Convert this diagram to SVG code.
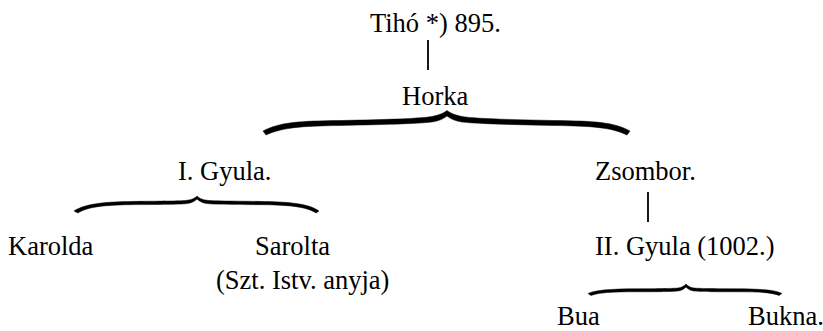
<svg xmlns="http://www.w3.org/2000/svg" width="823" height="331" viewBox="0 0 823 331">
<style>
.t{font-family:"Liberation Serif","Times New Roman",serif;font-size:26.5px;fill:#000}
.ln{stroke:#000;stroke-width:1.8;fill:none}
.br{fill:#000;stroke:#000;stroke-width:0.5;stroke-linejoin:round}
</style>
<rect width="823" height="331" fill="#fff"/>
<g id="connectors">
<line class="ln" x1="428" y1="40" x2="428" y2="70"/>
<line class="ln" x1="648" y1="192" x2="648" y2="222"/>
<path class="br" d="M263,131 C280,122 300,121 340,120.5 C390,119.5 420,118.5 432,116.5 C439,115 444,113 447,110.5 C450,113 455,115 462,116.5 C474,118.5 504,119.5 554,120.5 C594,121 614,122 630,131 L627,135 C612,127.5 592,126 554,125.5 C504,124.5 474,123.5 462,122 C455,121 450,118.5 447,116 C444,118.5 439,121 432,122 C420,123.5 390,124.5 340,125.5 C302,126 282,127.5 266,135 Z"/>
<path class="br" d="M74,211 C84,204.5 100,202 130,201.5 C160,201 180,201.2 187,200.3 C192,199.7 195,198 197,196 C199,198 202,199.7 207,200.3 C214,201.2 234,201 264,201.5 C294,202 310,204.5 319,211 L316,213 C308,207.5 292,205 264,204.7 C234,204.5 214,204.5 207,203.6 C202,203 199,201 197,199 C195,201 192,203 187,203.6 C180,204.5 160,204.5 130,204.7 C102,205 86,207.5 78,213 Z"/>
<path class="br" d="M588,293.5 C596,290 610,289 635,288.8 C660,288.6 672,288.6 678,288 C682,287.5 684,286 686,284 C688,286 690,287.5 694,288 C700,288.6 712,288.6 737,288.8 C762,289 775,290 782,293.5 L779,295.5 C772,292.5 760,291.8 737,291.8 C712,291.8 700,291.6 694,291 C690,290.5 688,289 686,287 C684,289 682,290.5 678,291 C672,291.6 660,291.8 635,291.8 C612,291.8 600,292.5 591,295.5 Z"/>
</g>
<g id="tiho"><text class="t" x="370" y="32">Tihó *) 895.</text></g>
<g id="horka"><text class="t" x="402" y="105">Horka</text></g>
<g id="gyula1"><text class="t" x="178" y="180">I. Gyula.</text></g>
<g id="zsombor"><text class="t" x="595" y="180">Zsombor.</text></g>
<g id="karolda"><text class="t" x="8" y="255">Karolda</text></g>
<g id="sarolta"><text class="t" x="255" y="255">Sarolta</text><text class="t" x="216" y="289">(Szt. Istv. anyja)</text></g>
<g id="gyula2"><text class="t" x="595" y="255">II. Gyula (1002.)</text></g>
<g id="bua"><text class="t" x="557" y="325">Bua</text></g>
<g id="bukna"><text class="t" x="748" y="325">Bukna.</text></g>
</svg>
